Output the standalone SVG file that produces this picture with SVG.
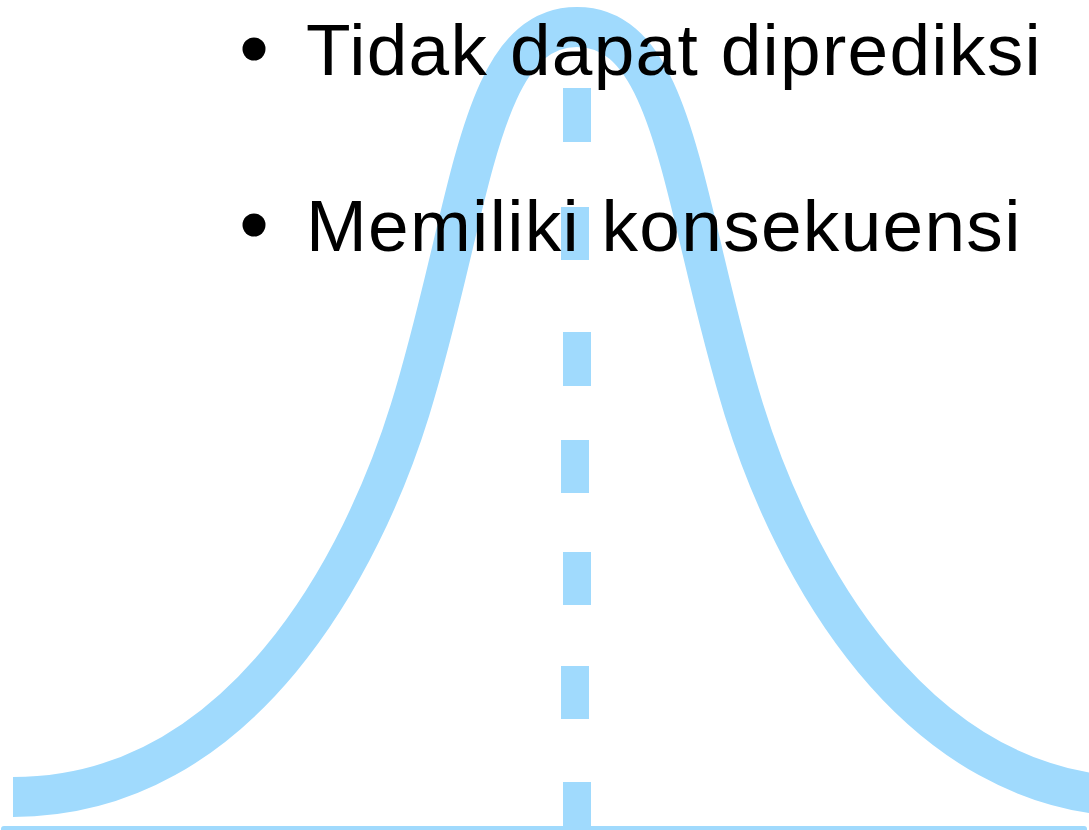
<svg xmlns="http://www.w3.org/2000/svg" width="1089" height="830" viewBox="0 0 1089 830">
  <style>
    .blue { fill: #a0dafd; }
    .curve { fill: none; stroke: #a0dafd; stroke-width: 40; stroke-linecap: butt; }
    .label { font-family: "Liberation Sans", Arial, Helvetica, sans-serif; font-size: 73px; letter-spacing: 1.3px; fill: #000; }
  </style>
  <rect width="1089" height="830" fill="#fff"/>

  <!-- bell curve -->
  <g id="bell-curve">
    <path class="curve" d="M13,797 C243,797 363.5,560 410,410 C472,210 477,27 577,27 C677,27 682,210 744,410 C790.5,560 911,797 1141,797"/>
  </g>

  <!-- baseline -->
  <g id="baseline">
    <rect class="blue" x="1" y="826" width="1086" height="8" rx="3"/>
  </g>

  <!-- dashed centre line -->
  <g id="mean-line">
    <rect class="blue" x="563" y="88" width="28" height="54"/>
    <rect class="blue" x="561" y="207" width="28" height="53"/>
    <rect class="blue" x="563" y="332" width="28" height="54"/>
    <rect class="blue" x="561" y="440" width="28" height="53"/>
    <rect class="blue" x="563" y="552" width="28" height="53"/>
    <rect class="blue" x="561" y="666" width="28" height="53"/>
    <rect class="blue" x="563" y="782" width="28" height="48"/>
  </g>

  <!-- bullet list -->
  <g id="item-1">
    <circle cx="254" cy="49" r="11.5" fill="#000"/>
    <text class="label" x="306" y="75">Tidak dapat diprediksi</text>
  </g>
  <g id="item-2">
    <circle cx="254" cy="225" r="11.5" fill="#000"/>
    <text class="label" x="306" y="251">Memiliki konsekuensi</text>
  </g>
</svg>
